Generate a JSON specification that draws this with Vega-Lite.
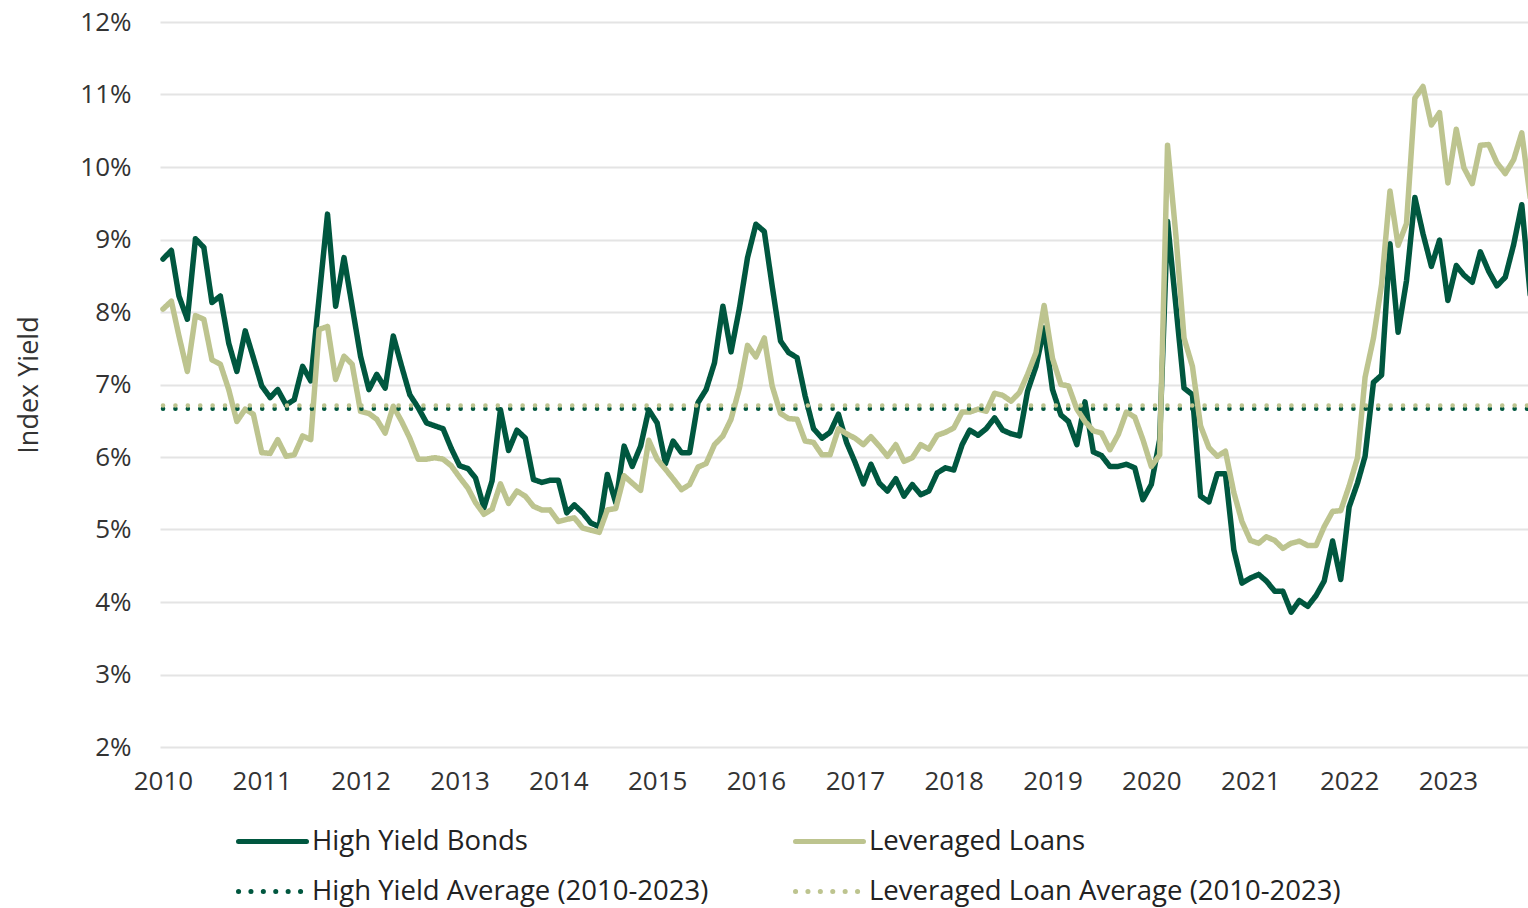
{
  "$schema": "https://vega.github.io/schema/vega-lite/v6.json",
  "width": 1368,
  "height": 725,
  "autosize": {"type": "none"},
  "padding": {"left": 160, "top": 22, "right": 0, "bottom": 161},
  "background": "white",
  "config": {"view": {"stroke": null}, "font": "Open Sans"},
  "encoding": {
    "x": {
      "field": "date", "type": "temporal",
      "scale": {"domain": [{"year": 2009, "month": 12, "date": 21, "utc": true}, {"year": 2023, "month": 10, "date": 24, "utc": true}]},
      "axis": {"title": null, "tickCount": {"interval": "year", "step": 1}, "format": "%Y", "grid": false, "domain": false, "ticks": false, "labelFontSize": 26, "labelColor": "#333333", "labelPadding": 21, "labelFlush": false, "labelOverlap": false, "labelFont": "Open Sans"}
    },
    "y": {
      "field": "value", "type": "quantitative",
      "scale": {"domain": [2, 12]},
      "axis": {"title": "Index Yield", "values": [2, 3, 4, 5, 6, 7, 8, 9, 10, 11, 12], "labelExpr": "datum.value + '%'", "grid": true, "gridColor": "#e4e4e4", "gridWidth": 2, "domain": false, "ticks": false, "tickSize": 0, "labelFontSize": 26, "labelColor": "#333333", "labelPadding": 29, "titleFontSize": 27, "titleFontWeight": "normal", "titleColor": "#333333", "titlePadding": 36, "labelFont": "Open Sans", "titleFont": "Open Sans"}
    },
    "color": {
      "field": "series", "type": "nominal",
      "scale": {"domain": ["High Yield Bonds", "High Yield Average (2010-2023)", "Leveraged Loans", "Leveraged Loan Average (2010-2023)"], "range": ["#00573F", "#00573F", "#BDC48F", "#BDC48F"]},
      "legend": {"title": null, "orient": "none", "legendX": 76, "legendY": 783, "columns": 2, "symbolType": "stroke", "symbolSize": 4624, "symbolStrokeWidth": 5, "labelFontSize": 27.5, "labelColor": "#222222", "labelFont": "Open Sans", "columnPadding": 76, "rowPadding": -19, "labelOffset": 3, "labelLimit": 700, "padding": 0, "encode": {"symbols": {"update": {"strokeCap": {"value": "round"}}}}}
    },
    "strokeDash": {
      "field": "series", "type": "nominal",
      "scale": {"domain": ["High Yield Bonds", "High Yield Average (2010-2023)", "Leveraged Loans", "Leveraged Loan Average (2010-2023)"], "range": [[1, 0], [0.1, 12.3], [1, 0], [0.1, 12.3]]},
      "legend": {"title": null, "orient": "none", "legendX": 76, "legendY": 783, "columns": 2, "symbolType": "stroke", "symbolSize": 4624, "symbolStrokeWidth": 5, "labelFontSize": 27.5, "labelColor": "#222222", "labelFont": "Open Sans", "columnPadding": 76, "rowPadding": -19, "labelOffset": 3, "labelLimit": 700, "padding": 0, "encode": {"symbols": {"update": {"strokeCap": {"value": "round"}}}}}
    }
  },
  "layer": [
    {
      "data": {"values": [
        {"date": "2010-01-01", "High Yield Bonds": 8.73, "Leveraged Loans": 8.04},
        {"date": "2010-02-01", "High Yield Bonds": 8.85, "Leveraged Loans": 8.15},
        {"date": "2010-03-01", "High Yield Bonds": 8.22, "Leveraged Loans": 7.67},
        {"date": "2010-04-01", "High Yield Bonds": 7.90, "Leveraged Loans": 7.18},
        {"date": "2010-05-01", "High Yield Bonds": 9.01, "Leveraged Loans": 7.95},
        {"date": "2010-06-01", "High Yield Bonds": 8.89, "Leveraged Loans": 7.90},
        {"date": "2010-07-01", "High Yield Bonds": 8.13, "Leveraged Loans": 7.34},
        {"date": "2010-08-01", "High Yield Bonds": 8.22, "Leveraged Loans": 7.28},
        {"date": "2010-09-01", "High Yield Bonds": 7.57, "Leveraged Loans": 6.93},
        {"date": "2010-10-01", "High Yield Bonds": 7.18, "Leveraged Loans": 6.49},
        {"date": "2010-11-01", "High Yield Bonds": 7.74, "Leveraged Loans": 6.66},
        {"date": "2010-12-01", "High Yield Bonds": 7.37, "Leveraged Loans": 6.59},
        {"date": "2011-01-01", "High Yield Bonds": 6.98, "Leveraged Loans": 6.06},
        {"date": "2011-02-01", "High Yield Bonds": 6.82, "Leveraged Loans": 6.05},
        {"date": "2011-03-01", "High Yield Bonds": 6.93, "Leveraged Loans": 6.24},
        {"date": "2011-04-01", "High Yield Bonds": 6.72, "Leveraged Loans": 6.01},
        {"date": "2011-05-01", "High Yield Bonds": 6.79, "Leveraged Loans": 6.03},
        {"date": "2011-06-01", "High Yield Bonds": 7.25, "Leveraged Loans": 6.29},
        {"date": "2011-07-01", "High Yield Bonds": 7.05, "Leveraged Loans": 6.24},
        {"date": "2011-08-01", "High Yield Bonds": 8.20, "Leveraged Loans": 7.76},
        {"date": "2011-09-01", "High Yield Bonds": 9.35, "Leveraged Loans": 7.80},
        {"date": "2011-10-01", "High Yield Bonds": 8.08, "Leveraged Loans": 7.07},
        {"date": "2011-11-01", "High Yield Bonds": 8.75, "Leveraged Loans": 7.39},
        {"date": "2011-12-01", "High Yield Bonds": 8.08, "Leveraged Loans": 7.28},
        {"date": "2012-01-01", "High Yield Bonds": 7.39, "Leveraged Loans": 6.63},
        {"date": "2012-02-01", "High Yield Bonds": 6.93, "Leveraged Loans": 6.60},
        {"date": "2012-03-01", "High Yield Bonds": 7.14, "Leveraged Loans": 6.52},
        {"date": "2012-04-01", "High Yield Bonds": 6.95, "Leveraged Loans": 6.33},
        {"date": "2012-05-01", "High Yield Bonds": 7.67, "Leveraged Loans": 6.70},
        {"date": "2012-06-01", "High Yield Bonds": 7.25, "Leveraged Loans": 6.49},
        {"date": "2012-07-01", "High Yield Bonds": 6.86, "Leveraged Loans": 6.26},
        {"date": "2012-08-01", "High Yield Bonds": 6.68, "Leveraged Loans": 5.97},
        {"date": "2012-09-01", "High Yield Bonds": 6.47, "Leveraged Loans": 5.97},
        {"date": "2012-10-01", "High Yield Bonds": 6.43, "Leveraged Loans": 5.99},
        {"date": "2012-11-01", "High Yield Bonds": 6.39, "Leveraged Loans": 5.97},
        {"date": "2012-12-01", "High Yield Bonds": 6.12, "Leveraged Loans": 5.88},
        {"date": "2013-01-01", "High Yield Bonds": 5.88, "Leveraged Loans": 5.72},
        {"date": "2013-02-01", "High Yield Bonds": 5.84, "Leveraged Loans": 5.57},
        {"date": "2013-03-01", "High Yield Bonds": 5.71, "Leveraged Loans": 5.37},
        {"date": "2013-04-01", "High Yield Bonds": 5.30, "Leveraged Loans": 5.21},
        {"date": "2013-05-01", "High Yield Bonds": 5.67, "Leveraged Loans": 5.28},
        {"date": "2013-06-01", "High Yield Bonds": 6.65, "Leveraged Loans": 5.63},
        {"date": "2013-07-01", "High Yield Bonds": 6.09, "Leveraged Loans": 5.36},
        {"date": "2013-08-01", "High Yield Bonds": 6.37, "Leveraged Loans": 5.53},
        {"date": "2013-09-01", "High Yield Bonds": 6.26, "Leveraged Loans": 5.46},
        {"date": "2013-10-01", "High Yield Bonds": 5.69, "Leveraged Loans": 5.32},
        {"date": "2013-11-01", "High Yield Bonds": 5.65, "Leveraged Loans": 5.27},
        {"date": "2013-12-01", "High Yield Bonds": 5.68, "Leveraged Loans": 5.27},
        {"date": "2014-01-01", "High Yield Bonds": 5.68, "Leveraged Loans": 5.11},
        {"date": "2014-02-01", "High Yield Bonds": 5.23, "Leveraged Loans": 5.14},
        {"date": "2014-03-01", "High Yield Bonds": 5.34, "Leveraged Loans": 5.16},
        {"date": "2014-04-01", "High Yield Bonds": 5.23, "Leveraged Loans": 5.02},
        {"date": "2014-05-01", "High Yield Bonds": 5.09, "Leveraged Loans": 4.99},
        {"date": "2014-06-01", "High Yield Bonds": 5.04, "Leveraged Loans": 4.96},
        {"date": "2014-07-01", "High Yield Bonds": 5.76, "Leveraged Loans": 5.27},
        {"date": "2014-08-01", "High Yield Bonds": 5.37, "Leveraged Loans": 5.29},
        {"date": "2014-09-01", "High Yield Bonds": 6.15, "Leveraged Loans": 5.74},
        {"date": "2014-10-01", "High Yield Bonds": 5.87, "Leveraged Loans": 5.64},
        {"date": "2014-11-01", "High Yield Bonds": 6.15, "Leveraged Loans": 5.54},
        {"date": "2014-12-01", "High Yield Bonds": 6.65, "Leveraged Loans": 6.23},
        {"date": "2015-01-01", "High Yield Bonds": 6.47, "Leveraged Loans": 5.97},
        {"date": "2015-02-01", "High Yield Bonds": 5.91, "Leveraged Loans": 5.83},
        {"date": "2015-03-01", "High Yield Bonds": 6.22, "Leveraged Loans": 5.70},
        {"date": "2015-04-01", "High Yield Bonds": 6.06, "Leveraged Loans": 5.55},
        {"date": "2015-05-01", "High Yield Bonds": 6.06, "Leveraged Loans": 5.62},
        {"date": "2015-06-01", "High Yield Bonds": 6.75, "Leveraged Loans": 5.86},
        {"date": "2015-07-01", "High Yield Bonds": 6.93, "Leveraged Loans": 5.91},
        {"date": "2015-08-01", "High Yield Bonds": 7.30, "Leveraged Loans": 6.17},
        {"date": "2015-09-01", "High Yield Bonds": 8.08, "Leveraged Loans": 6.29},
        {"date": "2015-10-01", "High Yield Bonds": 7.45, "Leveraged Loans": 6.52},
        {"date": "2015-11-01", "High Yield Bonds": 8.05, "Leveraged Loans": 6.95},
        {"date": "2015-12-01", "High Yield Bonds": 8.75, "Leveraged Loans": 7.54},
        {"date": "2016-01-01", "High Yield Bonds": 9.21, "Leveraged Loans": 7.38},
        {"date": "2016-02-01", "High Yield Bonds": 9.11, "Leveraged Loans": 7.64},
        {"date": "2016-03-01", "High Yield Bonds": 8.36, "Leveraged Loans": 6.98},
        {"date": "2016-04-01", "High Yield Bonds": 7.60, "Leveraged Loans": 6.60},
        {"date": "2016-05-01", "High Yield Bonds": 7.44, "Leveraged Loans": 6.53},
        {"date": "2016-06-01", "High Yield Bonds": 7.37, "Leveraged Loans": 6.52},
        {"date": "2016-07-01", "High Yield Bonds": 6.84, "Leveraged Loans": 6.22},
        {"date": "2016-08-01", "High Yield Bonds": 6.39, "Leveraged Loans": 6.20},
        {"date": "2016-09-01", "High Yield Bonds": 6.26, "Leveraged Loans": 6.03},
        {"date": "2016-10-01", "High Yield Bonds": 6.34, "Leveraged Loans": 6.03},
        {"date": "2016-11-01", "High Yield Bonds": 6.59, "Leveraged Loans": 6.39},
        {"date": "2016-12-01", "High Yield Bonds": 6.20, "Leveraged Loans": 6.32},
        {"date": "2017-01-01", "High Yield Bonds": 5.93, "Leveraged Loans": 6.26},
        {"date": "2017-02-01", "High Yield Bonds": 5.63, "Leveraged Loans": 6.17},
        {"date": "2017-03-01", "High Yield Bonds": 5.90, "Leveraged Loans": 6.28},
        {"date": "2017-04-01", "High Yield Bonds": 5.64, "Leveraged Loans": 6.15},
        {"date": "2017-05-01", "High Yield Bonds": 5.53, "Leveraged Loans": 6.01},
        {"date": "2017-06-01", "High Yield Bonds": 5.70, "Leveraged Loans": 6.17},
        {"date": "2017-07-01", "High Yield Bonds": 5.46, "Leveraged Loans": 5.94},
        {"date": "2017-08-01", "High Yield Bonds": 5.62, "Leveraged Loans": 5.99},
        {"date": "2017-09-01", "High Yield Bonds": 5.48, "Leveraged Loans": 6.17},
        {"date": "2017-10-01", "High Yield Bonds": 5.53, "Leveraged Loans": 6.11},
        {"date": "2017-11-01", "High Yield Bonds": 5.78, "Leveraged Loans": 6.30},
        {"date": "2017-12-01", "High Yield Bonds": 5.85, "Leveraged Loans": 6.34},
        {"date": "2018-01-01", "High Yield Bonds": 5.82, "Leveraged Loans": 6.40},
        {"date": "2018-02-01", "High Yield Bonds": 6.17, "Leveraged Loans": 6.62},
        {"date": "2018-03-01", "High Yield Bonds": 6.37, "Leveraged Loans": 6.62},
        {"date": "2018-04-01", "High Yield Bonds": 6.30, "Leveraged Loans": 6.66},
        {"date": "2018-05-01", "High Yield Bonds": 6.39, "Leveraged Loans": 6.63},
        {"date": "2018-06-01", "High Yield Bonds": 6.54, "Leveraged Loans": 6.88},
        {"date": "2018-07-01", "High Yield Bonds": 6.37, "Leveraged Loans": 6.85},
        {"date": "2018-08-01", "High Yield Bonds": 6.32, "Leveraged Loans": 6.77},
        {"date": "2018-09-01", "High Yield Bonds": 6.29, "Leveraged Loans": 6.89},
        {"date": "2018-10-01", "High Yield Bonds": 6.91, "Leveraged Loans": 7.14},
        {"date": "2018-11-01", "High Yield Bonds": 7.25, "Leveraged Loans": 7.44},
        {"date": "2018-12-01", "High Yield Bonds": 7.78, "Leveraged Loans": 8.09},
        {"date": "2019-01-01", "High Yield Bonds": 6.93, "Leveraged Loans": 7.36},
        {"date": "2019-02-01", "High Yield Bonds": 6.58, "Leveraged Loans": 7.00},
        {"date": "2019-03-01", "High Yield Bonds": 6.49, "Leveraged Loans": 6.98},
        {"date": "2019-04-01", "High Yield Bonds": 6.17, "Leveraged Loans": 6.66},
        {"date": "2019-05-01", "High Yield Bonds": 6.76, "Leveraged Loans": 6.49},
        {"date": "2019-06-01", "High Yield Bonds": 6.07, "Leveraged Loans": 6.36},
        {"date": "2019-07-01", "High Yield Bonds": 6.02, "Leveraged Loans": 6.33},
        {"date": "2019-08-01", "High Yield Bonds": 5.87, "Leveraged Loans": 6.10},
        {"date": "2019-09-01", "High Yield Bonds": 5.87, "Leveraged Loans": 6.31},
        {"date": "2019-10-01", "High Yield Bonds": 5.90, "Leveraged Loans": 6.62},
        {"date": "2019-11-01", "High Yield Bonds": 5.85, "Leveraged Loans": 6.55},
        {"date": "2019-12-01", "High Yield Bonds": 5.41, "Leveraged Loans": 6.24},
        {"date": "2020-01-01", "High Yield Bonds": 5.62, "Leveraged Loans": 5.87},
        {"date": "2020-02-01", "High Yield Bonds": 6.24, "Leveraged Loans": 6.03},
        {"date": "2020-03-01", "High Yield Bonds": 9.25, "Leveraged Loans": 10.30},
        {"date": "2020-04-01", "High Yield Bonds": 8.08, "Leveraged Loans": 9.05},
        {"date": "2020-05-01", "High Yield Bonds": 6.95, "Leveraged Loans": 7.64},
        {"date": "2020-06-01", "High Yield Bonds": 6.86, "Leveraged Loans": 7.25},
        {"date": "2020-07-01", "High Yield Bonds": 5.46, "Leveraged Loans": 6.43},
        {"date": "2020-08-01", "High Yield Bonds": 5.38, "Leveraged Loans": 6.13},
        {"date": "2020-09-01", "High Yield Bonds": 5.77, "Leveraged Loans": 6.01},
        {"date": "2020-10-01", "High Yield Bonds": 5.77, "Leveraged Loans": 6.08},
        {"date": "2020-11-01", "High Yield Bonds": 4.72, "Leveraged Loans": 5.51},
        {"date": "2020-12-01", "High Yield Bonds": 4.26, "Leveraged Loans": 5.11},
        {"date": "2021-01-01", "High Yield Bonds": 4.33, "Leveraged Loans": 4.85},
        {"date": "2021-02-01", "High Yield Bonds": 4.38, "Leveraged Loans": 4.81},
        {"date": "2021-03-01", "High Yield Bonds": 4.29, "Leveraged Loans": 4.90},
        {"date": "2021-04-01", "High Yield Bonds": 4.15, "Leveraged Loans": 4.85},
        {"date": "2021-05-01", "High Yield Bonds": 4.15, "Leveraged Loans": 4.74},
        {"date": "2021-06-01", "High Yield Bonds": 3.86, "Leveraged Loans": 4.81},
        {"date": "2021-07-01", "High Yield Bonds": 4.02, "Leveraged Loans": 4.84},
        {"date": "2021-08-01", "High Yield Bonds": 3.94, "Leveraged Loans": 4.78},
        {"date": "2021-09-01", "High Yield Bonds": 4.09, "Leveraged Loans": 4.78},
        {"date": "2021-10-01", "High Yield Bonds": 4.29, "Leveraged Loans": 5.04},
        {"date": "2021-11-01", "High Yield Bonds": 4.84, "Leveraged Loans": 5.25},
        {"date": "2021-12-01", "High Yield Bonds": 4.31, "Leveraged Loans": 5.26},
        {"date": "2022-01-01", "High Yield Bonds": 5.31, "Leveraged Loans": 5.60},
        {"date": "2022-02-01", "High Yield Bonds": 5.64, "Leveraged Loans": 5.99},
        {"date": "2022-03-01", "High Yield Bonds": 6.01, "Leveraged Loans": 7.10},
        {"date": "2022-04-01", "High Yield Bonds": 7.03, "Leveraged Loans": 7.64},
        {"date": "2022-05-01", "High Yield Bonds": 7.13, "Leveraged Loans": 8.38},
        {"date": "2022-06-01", "High Yield Bonds": 8.94, "Leveraged Loans": 9.67},
        {"date": "2022-07-01", "High Yield Bonds": 7.72, "Leveraged Loans": 8.92},
        {"date": "2022-08-01", "High Yield Bonds": 8.43, "Leveraged Loans": 9.22},
        {"date": "2022-09-01", "High Yield Bonds": 9.58, "Leveraged Loans": 10.95},
        {"date": "2022-10-01", "High Yield Bonds": 9.08, "Leveraged Loans": 11.11},
        {"date": "2022-11-01", "High Yield Bonds": 8.63, "Leveraged Loans": 10.58},
        {"date": "2022-12-01", "High Yield Bonds": 8.99, "Leveraged Loans": 10.75},
        {"date": "2023-01-01", "High Yield Bonds": 8.16, "Leveraged Loans": 9.78},
        {"date": "2023-02-01", "High Yield Bonds": 8.64, "Leveraged Loans": 10.52},
        {"date": "2023-03-01", "High Yield Bonds": 8.51, "Leveraged Loans": 9.99},
        {"date": "2023-04-01", "High Yield Bonds": 8.41, "Leveraged Loans": 9.77},
        {"date": "2023-05-01", "High Yield Bonds": 8.83, "Leveraged Loans": 10.30},
        {"date": "2023-06-01", "High Yield Bonds": 8.56, "Leveraged Loans": 10.31},
        {"date": "2023-07-01", "High Yield Bonds": 8.36, "Leveraged Loans": 10.06},
        {"date": "2023-08-01", "High Yield Bonds": 8.48, "Leveraged Loans": 9.91},
        {"date": "2023-09-01", "High Yield Bonds": 8.93, "Leveraged Loans": 10.10},
        {"date": "2023-10-01", "High Yield Bonds": 9.48, "Leveraged Loans": 10.47},
        {"date": "2023-11-01", "High Yield Bonds": 8.24, "Leveraged Loans": 9.58}
      ]},
      "transform": [{"fold": ["High Yield Bonds", "Leveraged Loans"], "as": ["series", "value"]}],
      "mark": {"type": "line", "strokeWidth": 5.5, "strokeJoin": "round", "strokeCap": "round", "clip": true}
    },
    {
      "data": {"values": [
        {"date": "2010-01-01", "series": "High Yield Average (2010-2023)", "value": 6.665},
        {"date": "2023-11-01", "series": "High Yield Average (2010-2023)", "value": 6.665},
        {"date": "2010-01-01", "series": "Leveraged Loan Average (2010-2023)", "value": 6.71},
        {"date": "2023-11-01", "series": "Leveraged Loan Average (2010-2023)", "value": 6.71}
      ]},
      "mark": {"type": "line", "strokeWidth": 4.5, "strokeCap": "round", "clip": true}
    }
  ]
}
